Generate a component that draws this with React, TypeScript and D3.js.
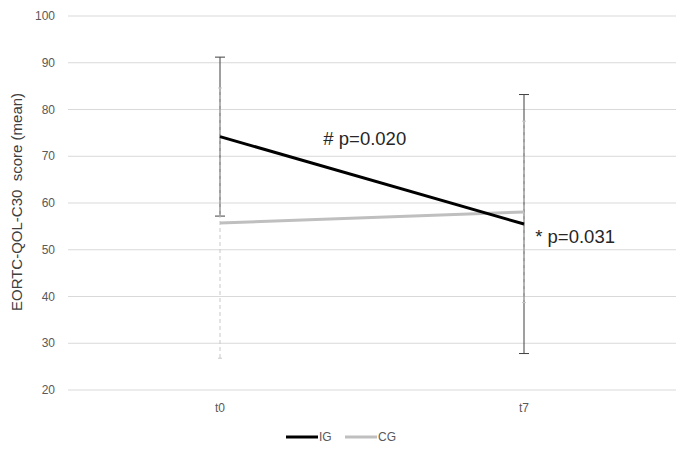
import * as d3 from "d3";

const timepoints = ["t0", "t7"];
const igMean = [74.2, 55.5];
const igSd = [17.0, 27.7];
const cgMean = [55.7, 58.1];
const cgSd = [28.9, 19.4];
const yTicks = [20, 30, 40, 50, 60, 70, 80, 90, 100];
const annotations = [
  { text: "# p=0.020", t: 0.34, v: 72.4 },
  { text: "* p=0.031", t: 1.037, v: 51.4 },
];

const W = 685;
const H = 457;
const FONT = "'Liberation Sans', Arial, sans-serif";

const App = () => {
  const x = d3.scaleBand().domain(timepoints).range([68, 676]);
  const y = d3.scaleLinear().domain([20, 100]).range([390, 16]);
  const cx = (t: string) => (x(t) ?? 0) + x.bandwidth() / 2;

  const line = d3
    .line<number>()
    .x((_, i) => cx(timepoints[i]))
    .y((d) => y(d));

  // annotations sit between / after the category centres
  const ax = d3.scaleLinear().domain([0, 1]).range([cx("t0"), cx("t7")]);

  return (
    <svg
      width={W}
      height={H}
      style={{ position: "absolute", left: 0, top: 0, background: "#fff" }}
      fontFamily={FONT}
    >
      {/* gridlines + y ticks */}
      <g>
        {yTicks.map((t) => (
          <g key={t}>
            <line x1={68} x2={676} y1={y(t)} y2={y(t)} stroke="#d9d9d9" strokeWidth={1} />
            <text x={55} y={y(t)} dy="0.35em" textAnchor="end" fontSize={12} fill="#595959">
              {t}
            </text>
          </g>
        ))}
      </g>

      <text
        transform="translate(22,202) rotate(-90)"
        textAnchor="middle"
        fontSize={15}
        fill="#404040"
      >
        {"EORTC-QOL-C30\u00a0 score (mean)"}
      </text>

      {timepoints.map((t) => (
        <text key={t} x={cx(t)} y={412} textAnchor="middle" fontSize={12} fill="#595959">
          {t}
        </text>
      ))}

      {/* IG error bars: solid thin */}
      {timepoints.map((t, i) => (
        <g key={"ige" + t} stroke="#404040" strokeWidth={1}>
          <line x1={cx(t)} x2={cx(t)} y1={y(igMean[i] + igSd[i])} y2={y(igMean[i] - igSd[i])} />
          <line x1={cx(t) - 5} x2={cx(t) + 5} y1={y(igMean[i] + igSd[i])} y2={y(igMean[i] + igSd[i])} />
          <line x1={cx(t) - 5} x2={cx(t) + 5} y1={y(igMean[i] - igSd[i])} y2={y(igMean[i] - igSd[i])} />
        </g>
      ))}

      {/* CG error bars: dashed light */}
      {timepoints.map((t, i) => (
        <g key={"cge" + t} stroke="#c8c8c8" strokeWidth={1}>
          <line
            x1={cx(t)}
            x2={cx(t)}
            y1={y(cgMean[i] + cgSd[i])}
            y2={y(cgMean[i] - cgSd[i])}
            strokeDasharray="4,3"
          />
          <line x1={cx(t) - 2} x2={cx(t) + 2} y1={y(cgMean[i] + cgSd[i])} y2={y(cgMean[i] + cgSd[i])} />
          <line x1={cx(t) - 2} x2={cx(t) + 2} y1={y(cgMean[i] - cgSd[i])} y2={y(cgMean[i] - cgSd[i])} />
        </g>
      ))}

      <path d={line(cgMean) ?? ""} fill="none" stroke="#bfbfbf" strokeWidth={3} />
      <path d={line(igMean) ?? ""} fill="none" stroke="#000" strokeWidth={3} />

      {annotations.map((a) => (
        <text key={a.text} x={ax(a.t)} y={y(a.v)} fontSize={18.5} fill="#262626">
          {a.text}
        </text>
      ))}

      {/* legend */}
      <g fontSize={12} fill="#595959">
        <line x1={286} x2={318} y1={437} y2={437} stroke="#000" strokeWidth={3} />
        <text x={319} y={437} dy="0.35em">IG</text>
        <line x1={345} x2={377} y1={437} y2={437} stroke="#bfbfbf" strokeWidth={3} />
        <text x={378} y={437} dy="0.35em">CG</text>
      </g>
    </svg>
  );
};

export default App;
